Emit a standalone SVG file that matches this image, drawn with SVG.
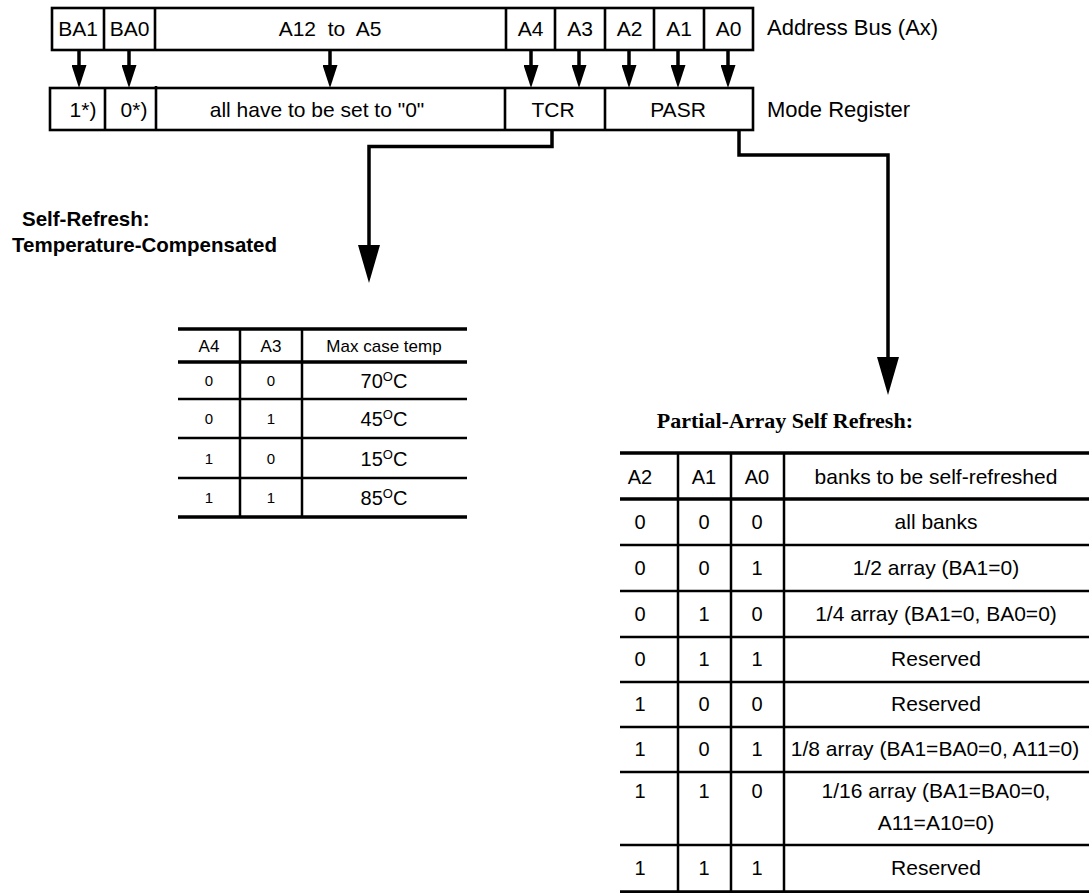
<svg xmlns="http://www.w3.org/2000/svg" width="1089" height="893" viewBox="0 0 1089 893">
<style>
  .box{fill:none;stroke:#000;stroke-width:2.6}
  .ln{fill:none;stroke:#000;stroke-width:2.5}
  .thk{fill:none;stroke:#000;stroke-width:3.3}
  .conn{fill:none;stroke:#000;stroke-width:3.5}
  .t{font-family:"Liberation Sans",Arial,sans-serif;fill:#000;text-anchor:middle}
  .reg{font-size:21px}
  .lbl{font-size:22px;text-anchor:start}
  .th{font-size:17px}
  .tv{font-size:15px}
  .tt{font-size:20px}
  .pv{font-size:20px}
  .pd{font-size:21px}
  .b{font-weight:bold;font-size:20.5px;text-anchor:start}
  .ser{font-family:"Liberation Serif","Times New Roman",serif;font-weight:bold;font-size:22px;fill:#000}
</style>
<defs>
  <marker id="ah" markerUnits="userSpaceOnUse" markerWidth="23" markerHeight="15" refX="5" refY="7.5" orient="auto">
    <path d="M0,0 L23,7.5 L0,15 z" fill="#000"/>
  </marker>
  <marker id="ahL" markerUnits="userSpaceOnUse" markerWidth="38" markerHeight="22" refX="8" refY="11" orient="auto">
    <path d="M0,0 L38,11 L0,22 z" fill="#000"/>
  </marker>
</defs>

<g id="address-bus">
  <rect class="box" x="52" y="8" width="701" height="42"/>
  <path class="box" d="M104,8V50M155,8V50M506,8V50M555,8V50M605,8V50M654,8V50M704,8V50"/>
  <text class="t reg" x="78" y="36">BA1</text>
  <text class="t reg" x="129.5" y="36">BA0</text>
  <text class="t reg" x="330" y="36">A12&#160; to&#160; A5</text>
  <text class="t reg" x="530.5" y="36">A4</text>
  <text class="t reg" x="580" y="36">A3</text>
  <text class="t reg" x="629.5" y="36">A2</text>
  <text class="t reg" x="679" y="36">A1</text>
  <text class="t reg" x="728.5" y="36">A0</text>
  <text class="t lbl" x="767" y="35">Address Bus (Ax)</text>
</g>

<g id="mode-register">
  <rect class="box" x="50" y="88" width="703" height="42"/>
  <path class="box" d="M105,88V130M156,86V130M505,88V130M605,88V130"/>
  <text class="t reg" x="83" y="117">1*)</text>
  <text class="t reg" x="134" y="117">0*)</text>
  <text class="t reg" x="317" y="117">all have to be set to "0"</text>
  <text class="t reg" x="553" y="117">TCR</text>
  <text class="t reg" x="678" y="117">PASR</text>
  <text class="t lbl" x="767" y="117">Mode Register</text>
</g>

<g id="connectors">
  <path class="conn" d="M79,50V70" marker-end="url(#ah)"/>
  <path class="conn" d="M129,50V70" marker-end="url(#ah)"/>
  <path class="conn" d="M330,50V70" marker-end="url(#ah)"/>
  <path class="conn" d="M531,50V70" marker-end="url(#ah)"/>
  <path class="conn" d="M579,50V70" marker-end="url(#ah)"/>
  <path class="conn" d="M629,50V70" marker-end="url(#ah)"/>
  <path class="conn" d="M678,50V70" marker-end="url(#ah)"/>
  <path class="conn" d="M728,50V70" marker-end="url(#ah)"/>
  <path class="conn" d="M552,130V146.5H369V253" marker-end="url(#ahL)"/>
  <path class="conn" d="M739,130V155H888V365" marker-end="url(#ahL)"/>
</g>

<g id="tcr-title">
  <text class="t b" x="22" y="226">Self-Refresh:</text>
  <text class="t b" x="12" y="252">Temperature-Compensated</text>
</g>

<g id="tcr-table">
  <path class="thk" d="M178,329H467M178,362H467M178,517H467"/>
  <path class="ln" d="M178,399H467M178,438H467M178,478H467M240,329V517M302,329V517"/>
  <text class="t th" x="209" y="352">A4</text>
  <text class="t th" x="271" y="352">A3</text>
  <text class="t th" x="384" y="352">Max case temp</text>
  <text class="t tv" x="209" y="386">0</text><text class="t tv" x="271" y="386">0</text>
  <text class="t tt" x="384" y="388">70<tspan font-size="13" dy="-7">O</tspan><tspan dy="7">C</tspan></text>
  <text class="t tv" x="209" y="424">0</text><text class="t tv" x="271" y="424">1</text>
  <text class="t tt" x="384" y="426">45<tspan font-size="13" dy="-7">O</tspan><tspan dy="7">C</tspan></text>
  <text class="t tv" x="209" y="464">1</text><text class="t tv" x="271" y="464">0</text>
  <text class="t tt" x="384" y="466">15<tspan font-size="13" dy="-7">O</tspan><tspan dy="7">C</tspan></text>
  <text class="t tv" x="209" y="503">1</text><text class="t tv" x="271" y="503">1</text>
  <text class="t tt" x="384" y="505">85<tspan font-size="13" dy="-7">O</tspan><tspan dy="7">C</tspan></text>
</g>

<g id="pasr-title">
  <text class="ser" x="913" y="428" text-anchor="end">Partial-Array Self Refresh:</text>
</g>

<g id="pasr-table">
  <path class="thk" d="M620,453H1089M620,499H1089M620,892H1089"/>
  <path class="ln" d="M620,545H1089M620,591H1089M620,637H1089M620,682H1089M620,727H1089M620,772H1089M620,845H1089M678,453V892M731,453V892M784,453V892"/>
  <g class="t pv">
    <text x="640" y="484">A2</text><text x="704" y="484">A1</text><text x="757" y="484">A0</text>
    <text x="640" y="529">0</text><text x="704" y="529">0</text><text x="757" y="529">0</text>
    <text x="640" y="575">0</text><text x="704" y="575">0</text><text x="757" y="575">1</text>
    <text x="640" y="621">0</text><text x="704" y="621">1</text><text x="757" y="621">0</text>
    <text x="640" y="666">0</text><text x="704" y="666">1</text><text x="757" y="666">1</text>
    <text x="640" y="711">1</text><text x="704" y="711">0</text><text x="757" y="711">0</text>
    <text x="640" y="756">1</text><text x="704" y="756">0</text><text x="757" y="756">1</text>
    <text x="640" y="798">1</text><text x="704" y="798">1</text><text x="757" y="798">0</text>
    <text x="640" y="875">1</text><text x="704" y="875">1</text><text x="757" y="875">1</text>
  </g>
  <g class="t pd">
    <text x="936" y="484">banks to be self-refreshed</text>
    <text x="936" y="529">all banks</text>
    <text x="936" y="575">1/2 array (BA1=0)</text>
    <text x="936" y="621">1/4 array (BA1=0, BA0=0)</text>
    <text x="936" y="666">Reserved</text>
    <text x="936" y="711">Reserved</text>
    <text x="935" y="756">1/8 array (BA1=BA0=0, A11=0)</text>
    <text x="936" y="798">1/16 array (BA1=BA0=0,</text>
    <text x="936" y="830">A11=A10=0)</text>
    <text x="936" y="875">Reserved</text>
  </g>
</g>
</svg>
